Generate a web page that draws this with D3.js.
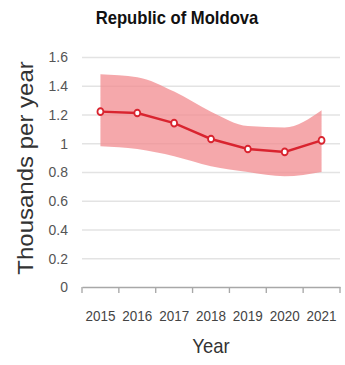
<!DOCTYPE html>
<html>
<head>
<meta charset="utf-8">
<script src="https://cdn.jsdelivr.net/npm/d3@7"></script>
<style>
  body { margin: 0; background: #fff; }
  svg { display: block; font-family: 'Liberation Sans', Arial, sans-serif; }
</style>
</head>
<body>
<svg width="345" height="365"></svg>
<script>
const years = ['2015', '2016', '2017', '2018', '2019', '2020', '2021']
const estimate = [1.22, 1.21, 1.14, 1.03, 0.96, 0.94, 1.02]
const upper = [1.48, 1.46, 1.36, 1.22, 1.12, 1.11, 1.23]
const lower = [0.98, 0.96, 0.91, 0.84, 0.8, 0.77, 0.8]
const yTicks = [0, 0.2, 0.4, 0.6, 0.8, 1, 1.2, 1.4, 1.6]

// the picture is a bit squeezed sideways, so draw wider and scale x
const sx = 0.9
const svg = d3.select('svg'),
  width = +svg.attr('width') / sx,
  height = +svg.attr('height')

const margin = { top: 57, right: width - 340 / sx, bottom: height - 287, left: 82 / sx }

const root = svg.append('g').attr('transform', `scale(${sx},1)`)

const x = d3
  .scaleBand()
  .domain(years)
  .range([margin.left, width - margin.right])

const y = d3
  .scaleLinear()
  .domain([0, 1.6])
  .range([height - margin.bottom, margin.top])

const rows = years.map((yr, i) => ({
  year: yr,
  value: estimate[i],
  hi: upper[i],
  lo: lower[i]
}))

const cx = d => x(d.year) + x.bandwidth() / 2

// grid + y labels
const yAxis = root
  .append('g')
  .attr('transform', `translate(${margin.left},0)`)
  .call(
    d3
      .axisLeft(y)
      .tickValues(yTicks)
      .tickFormat(d3.format('~g'))
      .tickSize(-(width - margin.left - margin.right))
      .tickPadding(14 / sx)
  )
yAxis.select('.domain').remove()
yAxis
  .selectAll('.tick line')
  .attr('stroke', '#e3e3e3')
  .attr('stroke-width', 1.5)
yAxis
  .selectAll('.tick text')
  .attr('fill', '#555')
  .style('font-size', '15.5px')
yAxis.selectAll('.tick').filter(d => d === 0).select('line').remove()

// band
root
  .append('path')
  .datum(rows)
  .attr('fill', '#f28b8f')
  .attr('fill-opacity', 0.75)
  .attr(
    'd',
    d3
      .area()
      .curve(d3.curveMonotoneX)
      .x(cx)
      .y0(d => y(d.lo))
      .y1(d => y(d.hi))
  )

// x axis
const xAxis = root
  .append('g')
  .attr('transform', `translate(0,${y(0)})`)
  .call(d3.axisBottom(x).tickSize(0).tickPadding(23))
xAxis
  .select('.domain')
  .attr('stroke', '#a8a8a8')
  .attr('stroke-width', 1.5)
xAxis
  .selectAll('.tick text')
  .attr('fill', '#444')
  .style('font-size', '15px')

const edges = years.map(yr => x(yr)).concat([x.range()[1]])
xAxis
  .selectAll('.edge')
  .data(edges)
  .enter()
  .append('line')
  .attr('class', 'edge')
  .attr('x1', d => d)
  .attr('x2', d => d)
  .attr('y1', 0)
  .attr('y2', 6)
  .attr('stroke', '#a8a8a8')
  .attr('stroke-width', 1.5)

// line + points
root
  .append('path')
  .datum(rows)
  .attr('fill', 'none')
  .attr('stroke', '#d9242f')
  .attr('stroke-width', 2.5)
  .attr(
    'd',
    d3
      .line()
      .x(cx)
      .y(d => y(d.value))
  )

root
  .selectAll('.pt')
  .data(rows)
  .enter()
  .append('circle')
  .attr('class', 'pt')
  .attr('cx', cx)
  .attr('cy', d => y(d.value))
  .attr('r', 3.3)
  .attr('fill', '#fff')
  .attr('stroke', '#d9242f')
  .attr('stroke-width', 2)

// titles
root
  .append('text')
  .attr('x', 177 / sx)
  .attr('y', 24)
  .attr('text-anchor', 'middle')
  .attr('fill', '#111')
  .style('font-size', '18.5px')
  .style('font-weight', 'bold')
  .text('Republic of Moldova')

root
  .append('text')
  .attr('x', (margin.left + width - margin.right) / 2)
  .attr('y', 353)
  .attr('text-anchor', 'middle')
  .attr('fill', '#333')
  .style('font-size', '20.5px')
  .text('Year')

root
  .append('text')
  .attr('transform', `translate(${33 / sx},${168}) rotate(-90)`)
  .attr('text-anchor', 'middle')
  .attr('fill', '#333')
  .style('font-size', '24px')
  .text('Thousands per year')
</script>
</body>
</html>
